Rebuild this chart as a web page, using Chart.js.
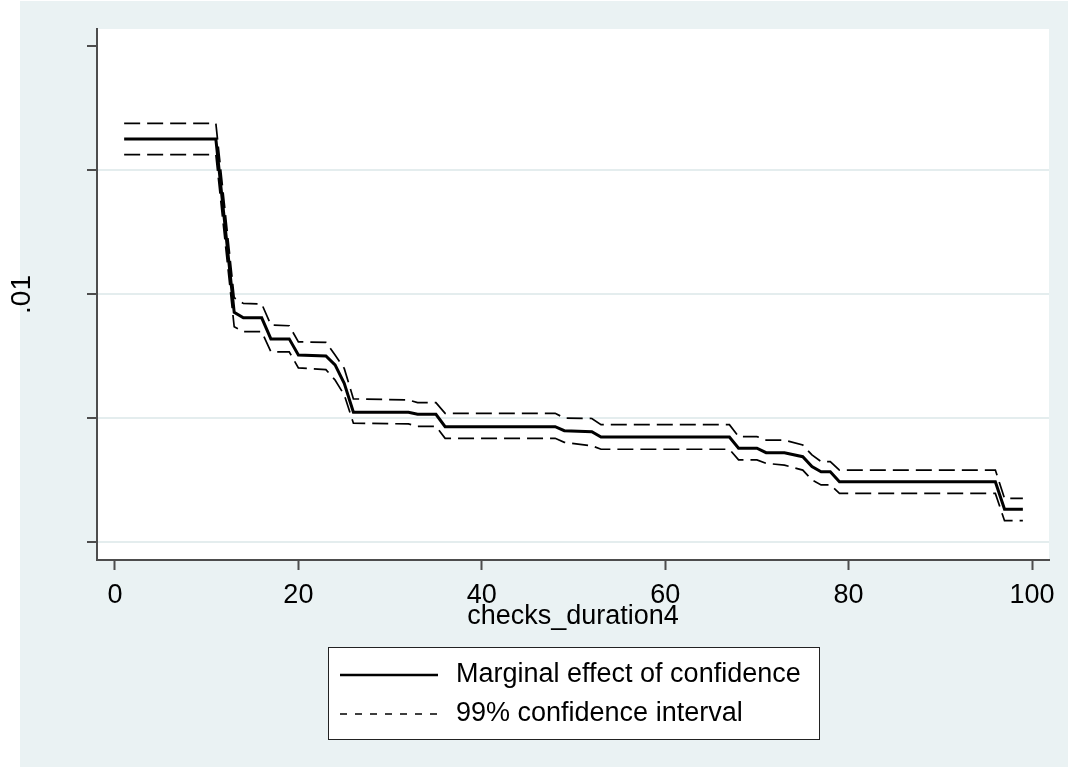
<!DOCTYPE html>
<html>
<head>
<meta charset="utf-8">
<script src="https://cdn.jsdelivr.net/npm/chart.js@4/dist/chart.umd.min.js"></script>
<style>
  html, body { margin: 0; padding: 0; background: #fff; }
  #wrap { width: 1068px; height: 767px; }
</style>
</head>
<body>
<div id="wrap"><canvas id="chart"></canvas></div>
<script>
// values (x = checks_duration4)
const durations = [1, 11, 13, 14, 16, 17, 19, 20, 23, 24, 25, 26, 32, 33, 35, 36, 48, 49, 52, 53, 67, 68, 70, 71, 73, 75, 76, 77, 78, 79, 96, 97, 99];
const marginalEffect = [.01625, .01625, .00926, .00904, .00904, .00819, .00819, .00754, .00750, .00714, .00640, .00523, .00523, .00515, .00515, .00465, .00465, .00449, .00445, .00423, .00423, .00378, .00378, .00360, .00360, .00344, .00304, .00283, .00283, .00243, .00243, .00132, .00132];
const upperCI = [.01688, .01688, .00985, .00962, .00960, .00875, .00872, .00807, .00805, .00754, .00700, .00577, .00573, .00562, .00562, .00519, .00519, .00500, .00498, .00473, .00473, .00425, .00425, .00411, .00411, .00391, .00351, .00324, .00324, .00290, .00290, .00176, .00176];
const lowerCI = [.01562, .01562, .00868, .00848, .00848, .00767, .00767, .00702, .00695, .00653, .00593, .00479, .00476, .00466, .00466, .00418, .00418, .00402, .00388, .00374, .00374, .00331, .00331, .00317, .00310, .00290, .00250, .00230, .00230, .00196, .00196, .00086, .00086];

const xTicks = [0, 20, 40, 60, 80, 100];
const yTicks = [0, 0.005, 0.01, 0.015, 0.02];

const axisColor = '#4d4d4d';
const gridColor = '#e4edee';

Chart.defaults.font.family = '"Liberation Sans", Arial, sans-serif';
Chart.defaults.color = '#000';

function points(ys) {
  return durations.map((x, i) => ({ x: x, y: ys[i] }));
}

// grey page + white plot region, like the stata s2color scheme
const pageBackground = {
  id: 'pageBackground',
  beforeDraw(chart) {
    const { ctx, chartArea: a } = chart;
    ctx.save();
    ctx.fillStyle = '#eaf2f3';
    ctx.fillRect(20, 1, chart.width - 20, chart.height - 1);
    ctx.fillStyle = '#fff';
    ctx.fillRect(a.left, a.top, a.right - a.left, a.bottom - a.top);
    ctx.restore();
  }
};

// boxed legend with one entry per row, centred under the plot
const boxLegend = {
  id: 'boxLegend',
  afterDraw(chart, args, opts) {
    const { ctx, chartArea: a } = chart;
    const items = chart.data.datasets.filter(d => d.label);
    const left = Math.round((a.left + a.right) / 2 - opts.width / 2);
    const top = Math.round(a.bottom + opts.offset);
    ctx.save();
    ctx.fillStyle = '#fff';
    ctx.fillRect(left, top, opts.width, opts.height);
    ctx.strokeStyle = '#222';
    ctx.lineWidth = 1;
    ctx.strokeRect(left + 0.5, top + 0.5, opts.width, opts.height);
    ctx.font = opts.fontSize + 'px "Liberation Sans", Arial, sans-serif';
    ctx.textBaseline = 'middle';
    items.forEach((d, i) => {
      const y = top + opts.firstRow + i * opts.rowGap;
      ctx.beginPath();
      ctx.setLineDash(d.legendDash || []);
      ctx.lineWidth = d.legendWidth || d.borderWidth;
      ctx.strokeStyle = d.borderColor;
      ctx.moveTo(left + opts.lineStart, y);
      ctx.lineTo(left + opts.lineEnd, y);
      ctx.stroke();
      ctx.setLineDash([]);
      ctx.fillStyle = '#000';
      ctx.fillText(d.label, left + opts.textStart, y);
    });
    ctx.restore();
  }
};

new Chart(document.getElementById('chart'), {
  type: 'line',
  data: {
    datasets: [
      {
        label: 'Marginal effect of confidence',
        data: points(marginalEffect),
        borderColor: '#000',
        borderWidth: 3,
        legendWidth: 2.5
      },
      {
        label: '99% confidence interval',
        data: points(upperCI),
        borderColor: '#000',
        borderWidth: 1.7,
        borderDash: [16, 7],
        legendDash: [7, 8],
        legendWidth: 1.3
      },
      {
        data: points(lowerCI),
        borderColor: '#000',
        borderWidth: 1.7,
        borderDash: [16, 7]
      }
    ]
  },
  options: {
    responsive: true,
    maintainAspectRatio: false,
    animation: false,
    layout: { padding: { left: 0, top: 29, right: 19, bottom: 127 } },
    elements: {
      point: { radius: 0 },
      line: { tension: 0, fill: false }
    },
    plugins: {
      legend: { display: false },
      tooltip: { enabled: false },
      boxLegend: {
        width: 491, height: 92, offset: 87,
        firstRow: 28, rowGap: 39,
        lineStart: 12, lineEnd: 110, textStart: 128,
        fontSize: 27
      }
    },
    scales: {
      x: {
        type: 'linear',
        min: -1.96,
        max: 101.85,
        afterBuildTicks: s => { s.ticks = xTicks.map(v => ({ value: v })); },
        afterFit: s => { s.height = 80; },
        grid: { drawOnChartArea: false, tickLength: 10, tickWidth: 2, tickColor: axisColor },
        border: { color: axisColor, width: 2 },
        ticks: { font: { size: 27 }, padding: 9, maxRotation: 0 },
        title: { display: true, text: 'checks_duration4', font: { size: 27 }, padding: { top: 0, bottom: 7 } }
      },
      y: {
        type: 'linear',
        min: -0.000726,
        max: 0.020685,
        afterBuildTicks: s => { s.ticks = yTicks.map(v => ({ value: v })); },
        afterFit: s => { s.width = 97; },
        grid: {
          color: c => (c.tick && c.tick.value === 0.02) ? 'rgba(0,0,0,0)' : gridColor,
          lineWidth: 2,
          tickLength: 10,
          tickWidth: 2,
          tickColor: axisColor
        },
        border: { color: axisColor, width: 2 },
        ticks: { display: false },
        title: { display: true, text: '.01', font: { size: 28 }, padding: { top: 5, bottom: 0 } }
      }
    }
  },
  plugins: [pageBackground, boxLegend]
});
</script>
</body>
</html>
